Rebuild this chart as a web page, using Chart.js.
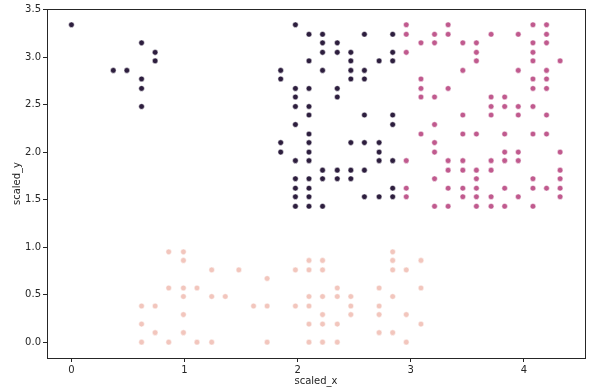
<!DOCTYPE html>
<html>
<head>
<meta charset="utf-8">
<script src="https://cdn.jsdelivr.net/npm/chart.js@4.4.1/dist/chart.umd.min.js"></script>
<style>
  html, body { margin:0; padding:0; background:#fff; }
  canvas { display:block; }
</style>
</head>
<body>
<canvas id="chart" width="598" height="392"></canvas>
<script>
// points, [scaled_x, scaled_y]
const darkPts = [
  [0,3.34],[0.62,3.15],[0.74,3.05],[0.74,2.96],[0.37,2.86],[0.49,2.86],[0.62,2.77],[0.62,2.67],[0.62,2.48],
  [1.98,3.34],
  [2.10,3.24],[2.22,3.24],[2.59,3.24],[2.84,3.24],
  [2.22,3.15],[2.35,3.15],
  [2.22,3.05],[2.35,3.05],[2.47,3.05],[2.84,3.05],
  [2.10,2.96],[2.47,2.96],[2.72,2.96],[2.84,2.96],
  [1.85,2.86],[2.22,2.86],[2.47,2.86],[2.59,2.86],
  [1.85,2.77],[2.47,2.77],[2.59,2.77],
  [1.98,2.67],[2.10,2.67],[2.35,2.67],
  [1.98,2.58],[2.35,2.58],
  [1.98,2.48],[2.10,2.48],
  [2.10,2.39],[2.59,2.39],[2.84,2.39],
  [1.98,2.29],[2.84,2.29],
  [2.10,2.19],
  [1.85,2.10],[2.10,2.10],[2.47,2.10],[2.59,2.10],[2.72,2.10],
  [1.85,2.00],[2.10,2.00],[2.72,2.00],
  [1.98,1.91],[2.10,1.91],[2.72,1.91],[2.84,1.91],
  [2.22,1.81],[2.35,1.81],[2.47,1.81],[2.59,1.81],
  [1.98,1.72],[2.10,1.72],[2.22,1.72],[2.35,1.72],[2.47,1.72],
  [1.98,1.62],[2.10,1.62],[2.84,1.62],
  [1.98,1.53],[2.10,1.53],[2.59,1.53],[2.72,1.53],[2.84,1.53],
  [1.98,1.43],[2.10,1.43],[2.22,1.43]
];

const midPts = [
  [2.96,3.34],[3.33,3.34],[4.08,3.34],[4.20,3.34],
  [2.96,3.24],[3.21,3.24],[3.33,3.24],[3.71,3.24],[3.95,3.24],[4.20,3.24],
  [3.09,3.15],[3.21,3.15],[3.46,3.15],[3.58,3.15],[4.08,3.15],[4.20,3.15],
  [2.96,3.05],[3.58,3.05],[4.08,3.05],
  [3.58,2.96],[4.08,2.96],[4.32,2.96],
  [3.46,2.86],[3.95,2.86],[4.20,2.86],
  [3.09,2.77],[4.08,2.77],[4.20,2.77],
  [3.09,2.67],[3.33,2.67],[4.08,2.67],[4.20,2.67],
  [3.09,2.58],[3.21,2.58],[3.71,2.58],[3.83,2.58],
  [3.71,2.48],[3.83,2.48],[3.95,2.48],[4.08,2.48],
  [3.46,2.39],[3.71,2.39],[3.95,2.39],[4.20,2.39],
  [3.21,2.29],
  [3.09,2.19],[3.46,2.19],[3.58,2.19],[3.83,2.19],[4.08,2.19],[4.20,2.19],
  [3.21,2.10],
  [3.21,2.00],[3.83,2.00],[3.95,2.00],[4.32,2.00],
  [2.96,1.91],[3.33,1.91],[3.46,1.91],[3.71,1.91],[3.83,1.91],[3.95,1.91],
  [3.33,1.81],[3.46,1.81],[3.58,1.81],[3.71,1.81],[4.32,1.81],
  [3.21,1.72],[3.58,1.72],[4.08,1.72],[4.32,1.72],
  [2.96,1.62],[3.33,1.62],[3.46,1.62],[3.58,1.62],[3.83,1.62],[4.08,1.62],[4.20,1.62],[4.32,1.62],
  [2.96,1.53],[3.46,1.53],[3.58,1.53],[3.71,1.53],[3.95,1.53],[4.32,1.53],
  [3.21,1.43],[3.33,1.43],[3.58,1.43],[3.71,1.43],[3.83,1.43],[4.08,1.43]
];

const lightPts = [
  [0.86,0.95],[0.99,0.95],[2.84,0.95],
  [0.99,0.86],[2.10,0.86],[2.22,0.86],[2.84,0.86],[3.09,0.86],
  [1.24,0.76],[1.48,0.76],[1.98,0.76],[2.10,0.76],[2.22,0.76],[2.84,0.76],[2.96,0.76],
  [1.73,0.67],
  [0.86,0.57],[0.99,0.57],[1.11,0.57],[2.35,0.57],[2.72,0.57],[3.09,0.57],
  [0.99,0.48],[1.24,0.48],[1.36,0.48],[2.10,0.48],[2.22,0.48],[2.35,0.48],[2.47,0.48],[2.84,0.48],
  [0.62,0.38],[0.74,0.38],[1.61,0.38],[1.73,0.38],[1.98,0.38],[2.10,0.38],[2.47,0.38],[2.72,0.38],
  [0.99,0.29],[2.22,0.29],[2.47,0.29],[2.72,0.29],[2.96,0.29],
  [0.62,0.19],[2.10,0.19],[2.22,0.19],[2.35,0.19],[3.09,0.19],
  [0.74,0.10],[0.99,0.10],[2.72,0.10],[2.84,0.10],
  [0.62,0],[0.86,0],[1.11,0],[1.24,0],[1.73,0],[2.10,0],[2.22,0],[2.35,0],[2.96,0]
];

const xTicks = [0, 1, 2, 3, 4];
const yTicks = [0, 0.5, 1, 1.5, 2, 2.5, 3, 3.5];

const font = { family: "DejaVu Sans", size: 10 };
const ink = "#262626";

const toXY = p => ({ x: p[0], y: p[1] });

const mkSet = (pts, color) => ({
  data: pts.map(toXY),
  backgroundColor: color,
  borderColor: "#ffffff",
  borderWidth: 0.5,
  pointRadius: 2.8,
  pointHoverRadius: 2.8
});

// box round the plot, like the matplotlib spines
const frame = {
  id: "frame",
  afterDraw(chart) {
    const a = chart.chartArea, c = chart.ctx;
    c.save();
    c.strokeStyle = ink;
    c.lineWidth = 1;
    c.strokeRect(Math.round(a.left) + 0.5, Math.round(a.top) + 0.5,
      Math.round(a.right - a.left), Math.round(a.bottom - a.top));
    c.restore();
  }
};

new Chart(document.getElementById("chart"), {
  type: "scatter",
  data: {
    datasets: [
      mkSet(darkPts, "#2d1e3e"),
      mkSet(midPts, "#c05a8e"),
      mkSet(lightPts, "#f2c6bd")
    ]
  },
  options: {
    responsive: false,
    animation: false,
    layout: { padding: { top: 9, right: 13, left: 0, bottom: 0 } },
    plugins: { legend: { display: false }, tooltip: { enabled: false } },
    scales: {
      x: {
        type: "linear",
        min: -0.216, max: 4.54,
        afterBuildTicks: s => { s.ticks = xTicks.map(v => ({ value: v })); },
        afterFit: s => { s.height = 34; },
        grid: { drawOnChartArea: false, color: ink, tickLength: 4 },
        border: { color: ink },
        ticks: { color: ink, font, padding: 2, maxRotation: 0,
          callback: v => String(v) },
        title: { display: true, text: "scaled_x", color: ink, font,
          padding: { top: 0, bottom: 5 } }
      },
      y: {
        type: "linear",
        min: -0.167, max: 3.506,
        afterBuildTicks: s => { s.ticks = yTicks.map(v => ({ value: v })); },
        afterFit: s => { s.width = 47; },
        grid: { drawOnChartArea: false, color: ink, tickLength: 4 },
        border: { color: ink },
        ticks: { color: ink, font, padding: 2,
          callback: v => Number(v).toFixed(1) },
        title: { display: true, text: "scaled_y", color: ink, font,
          padding: { top: 11, bottom: 0 } }
      }
    }
  },
  plugins: [frame]
});
</script>
</body>
</html>
